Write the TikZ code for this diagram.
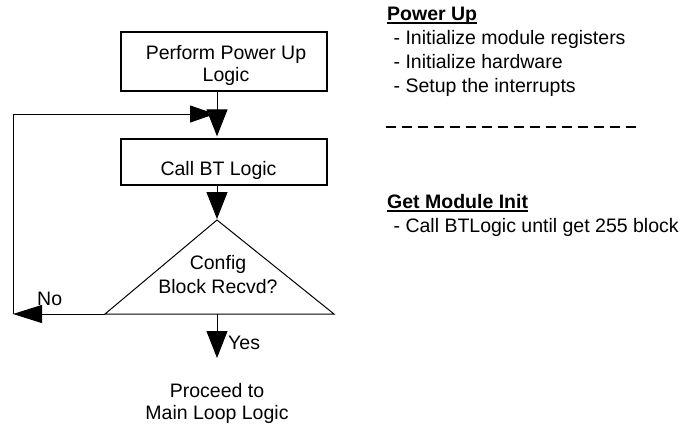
\documentclass[tikz,border=0pt]{standalone}
\usepackage{fontspec}
\setmainfont{Liberation Sans}
\usetikzlibrary{arrows.meta}
\begin{document}
\begin{tikzpicture}[x=1pt,y=-1pt,
  box/.style={draw,line width=1.3pt,minimum width=206pt,minimum height=59pt,inner sep=0pt},
  txt/.style={inner sep=0pt,anchor=base,font=\fontsize{19.5}{22}\selectfont},
  rtxt/.style={inner sep=0pt,anchor=base west,font=\fontsize{19.5}{24}\selectfont},
  conn/.style={line width=1pt},
  varr/.style={conn,-{Triangle[length=27pt,width=21pt]}},
  harr/.style={conn,-{Triangle[length=29pt,width=18pt]}},
  larr/.style={conn,-{Triangle[length=25pt,width=17pt]}}]
\useasboundingbox (0,0) rectangle (687,424);
% boxes
\node[box] (b1) at (224,61.5) {};
\node[box,minimum height=46pt] (b2) at (224,162) {};
\node[txt] (t1a) at (226,59) {Perform Power Up};
\node[txt] (t1b) at (226,81) {Logic};
\node[txt] (t2) at (218.5,175) {Call BT Logic};
% decision triangle
\coordinate (apex) at (217,220);
\coordinate (tl) at (105,314);
\coordinate (tr) at (334,314);
\coordinate (tb) at (217,314);
\draw[line width=1pt,line join=miter] (apex) -- (tl) -- (tr) -- cycle;
\node[txt] (c1) at (218,269) {Config};
\node[txt] (c2) at (218,293) {Block Recvd?};
% axis coordinates
\coordinate (ax) at (217,0);
\coordinate (join) at (215,114);
\coordinate (nol) at (13,314);
\coordinate (yesend) at (217,358);
% connectors
\draw[varr,shorten >=2pt] (b1.south -| ax) -- (b2.north -| ax);
\draw[varr,shorten >=1pt] (b2.south -| ax) -- (apex);
\draw[harr] (tl) -- (nol);
\draw[larr] (nol) |- (join);
\draw[varr] (tb) -- (yesend);
\node[txt,anchor=base west] (no) at (37,305) {No};
\node[txt,anchor=base west] (yes) at (228,349) {Yes};
\node[txt] (p1) at (217,397) {Proceed to};
\node[txt] (p2) at (217,419) {Main Loop Logic};
% right-side notes
\node[rtxt,font=\fontsize{19.5}{24}\selectfont\bfseries] (pu) at (387,20) {Power Up};
\draw[line width=1.4pt] ([yshift=-3pt]pu.base west) -- ([yshift=-3pt]pu.base east);
\node[rtxt] (pu1) at (388,44) {\ - Initialize module registers};
\node[rtxt] (pu2) at (388,68) {\ - Initialize hardware};
\node[rtxt] (pu3) at (388,92) {\ - Setup the interrupts};
\coordinate (ds) at (386,127);
\coordinate (de) at (636,127);
\draw[line width=1.8pt,dash pattern=on 9.5pt off 6.5pt] (ds) -- (de);
\node[rtxt,font=\fontsize{19.5}{24}\selectfont\bfseries] (gm) at (387,208) {Get Module Init};
\draw[line width=1.4pt] ([yshift=-3pt]gm.base west) -- ([yshift=-3pt]gm.base east);
\node[rtxt] (gm1) at (388,232) {\ - Call BTLogic until get 255 block};
\end{tikzpicture}
\end{document}
